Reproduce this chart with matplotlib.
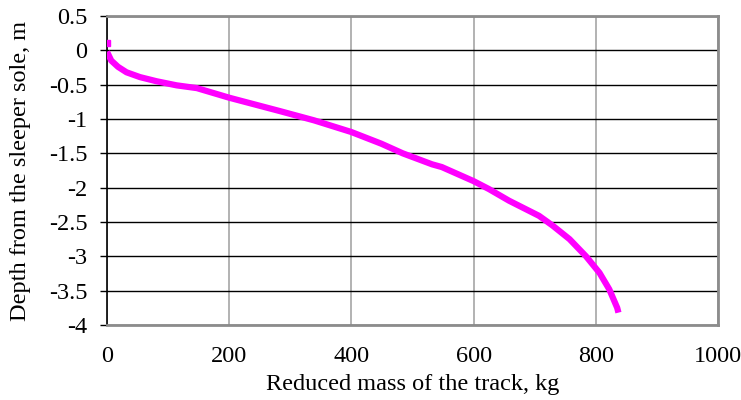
import matplotlib.pyplot as plt

plt.rcParams['font.family'] = ['Liberation Serif', 'DejaVu Serif']

# surface point (drawn on its own)
mass_top = [0]
depth_top = [0.1]

# curve
mass = [0, 7, 18, 32, 54, 81, 114, 147, 200, 283, 339, 400, 449, 484, 532,
        548, 600, 625, 658, 707, 729, 757, 784, 806, 822, 835, 837]
depth = [-0.02, -0.15, -0.24, -0.32, -0.39, -0.45, -0.51, -0.55, -0.69, -0.885,
         -1.02, -1.19, -1.36, -1.50, -1.66, -1.70, -1.905, -2.02, -2.19, -2.41,
         -2.55, -2.75, -3.00, -3.24, -3.48, -3.75, -3.82]

x_ticks = [0, 200, 400, 600, 800, 1000]
y_ticks = [0.5, 0, -0.5, -1, -1.5, -2, -2.5, -3, -3.5, -4]

fig = plt.figure(figsize=(7.41, 4.0), dpi=100)
ax = fig.add_axes([0.1444, 0.1875, 0.8246, 0.7725])

ax.plot(mass, depth, color='#FF00FF', linewidth=4.5, solid_capstyle='butt',
        solid_joinstyle='round', zorder=3)
ax.plot(mass_top, depth_top, 's', color='#FF00FF', markersize=4, zorder=3)

ax.set_xlim(0, 1000)
ax.set_ylim(-4, 0.5)
ax.set_xticks(x_ticks)
ax.set_yticks(y_ticks)
ax.set_yticklabels([f'{t:g}' for t in y_ticks])

ax.xaxis.grid(True, color='#a6a6a6', linewidth=1.2)
ax.yaxis.grid(True, color='black', linewidth=1.0)
ax.set_axisbelow(True)

for s in ['top', 'right', 'bottom']:
    ax.spines[s].set_color('#8c8c8c')
    ax.spines[s].set_linewidth(2)
ax.spines['left'].set_color('black')
ax.spines['left'].set_linewidth(1.2)

ax.tick_params(axis='x', length=0, pad=15, labelsize=17.5)
ax.tick_params(axis='y', length=5, width=1, direction='out', pad=9, labelsize=17.5)

ax.set_xlabel('Reduced mass of the track, kg', fontsize=17.5, labelpad=5)
ax.set_ylabel('Depth from the sleeper sole, m', fontsize=17.5, labelpad=13)

fig.savefig('out.png', dpi=100)
